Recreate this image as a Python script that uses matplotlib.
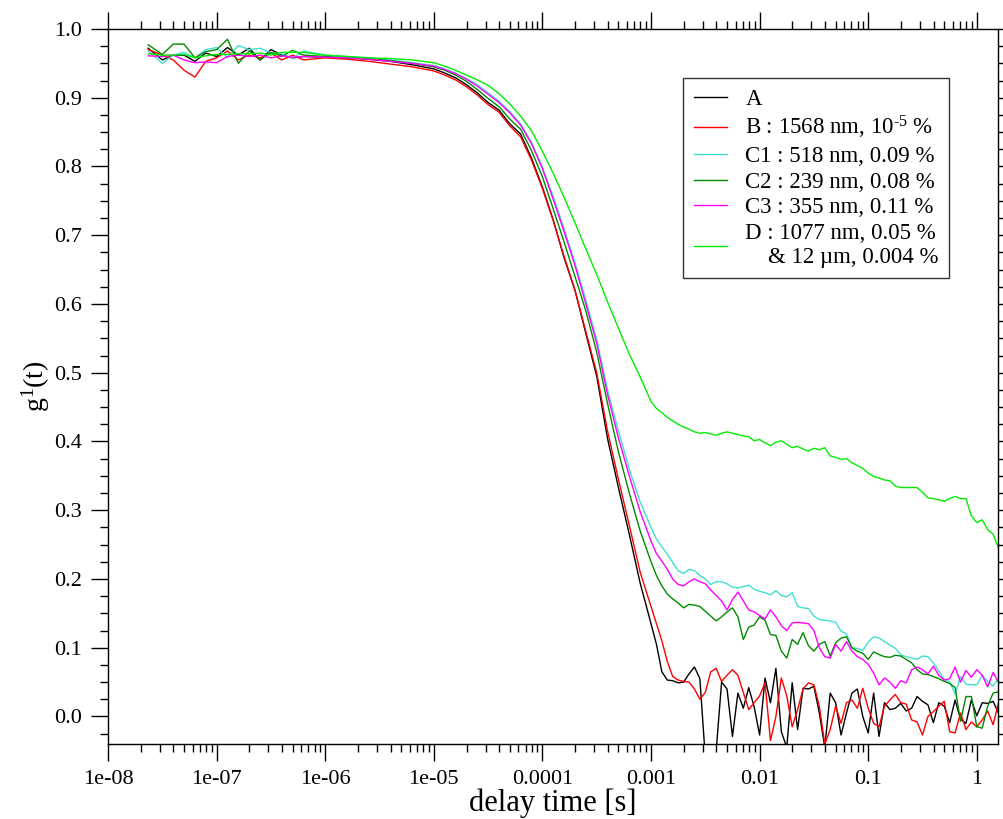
import numpy as np
import matplotlib
matplotlib.use('Agg')
import matplotlib.pyplot as plt
from matplotlib.ticker import FixedLocator, FixedFormatter, MultipleLocator, LogLocator, NullFormatter

plt.rcParams['font.family'] = ['Liberation Serif', 'DejaVu Serif']
plt.rcParams['mathtext.fontset'] = 'custom'
plt.rcParams['mathtext.rm'] = 'Liberation Serif'
plt.rcParams['mathtext.it'] = 'Liberation Serif:italic'

# lag times (log10 of delay time in s)
log_tau = [-7.63, -7.5, -7.4, -7.3, -7.2, -7.1, -7.0, -6.9, -6.8, -6.7, -6.6, -6.5, -6.4, -6.3, -6.2,
           -6.0, -5.8, -5.6, -5.4, -5.2,
           -5.0, -4.9, -4.8, -4.7, -4.6, -4.5, -4.4, -4.3, -4.2, -4.1,
           -4.0, -3.9, -3.8, -3.7, -3.6, -3.5, -3.4, -3.3, -3.2, -3.1,
           -3.0, -2.95, -2.9, -2.85, -2.8, -2.75, -2.7, -2.65, -2.6, -2.55,
           -2.5, -2.45, -2.4, -2.35, -2.3, -2.25, -2.2, -2.15, -2.1, -2.05,
           -2.0, -1.95, -1.9, -1.85, -1.8, -1.75, -1.7, -1.65, -1.6, -1.55,
           -1.5, -1.45, -1.4, -1.35, -1.3, -1.25, -1.2, -1.15, -1.1, -1.05,
           -1.0, -0.95, -0.9, -0.85, -0.8, -0.75, -0.7, -0.65, -0.6, -0.55,
           -0.5, -0.45, -0.4, -0.35, -0.3, -0.25, -0.2, -0.15, -0.1, -0.05,
           0.0, 0.05, 0.1, 0.15, 0.2]

g_A = [0.972, 0.955, 0.962, 0.962, 0.953, 0.965, 0.960, 0.973, 0.962, 0.972, 0.955, 0.970, 0.962, 0.958, 0.960,
       0.959, 0.958, 0.956, 0.953, 0.948,
       0.942, 0.936, 0.929, 0.919, 0.907, 0.893, 0.882, 0.862, 0.847, 0.812,
       0.770, 0.722, 0.667, 0.620, 0.557, 0.495, 0.404, 0.333, 0.265, 0.194,
       0.135, 0.105, 0.065, 0.053, 0.052, 0.049, 0.050, 0.062, 0.072, 0.055,
       -0.060, -0.060, -0.050, 0.050, 0.040, -0.029, 0.034, 0.012, 0.042, 0.014,
       -0.027, 0.056, 0.020, 0.070, -0.022, -0.045, 0.049, -0.019, 0.041, 0.040,
       0.044, 0.005, -0.045, 0.034, 0.020, -0.027, 0.005, 0.034, 0.040, 0.000,
       -0.024, 0.034, -0.029, 0.020, 0.010, 0.012, 0.019, 0.008, 0.012, 0.029,
       0.022, 0.017, -0.009, 0.020, 0.015, -0.009, 0.024, -0.004, -0.010, 0.024,
       0.001, 0.020, 0.019, 0.022, 0.005]

g_B = [0.970, 0.962, 0.955, 0.940, 0.930, 0.953, 0.958, 0.968, 0.955, 0.962, 0.958, 0.965, 0.955, 0.962, 0.955,
       0.958, 0.956, 0.953, 0.949, 0.945,
       0.939, 0.933, 0.926, 0.916, 0.904, 0.890, 0.879, 0.859, 0.843, 0.809,
       0.768, 0.721, 0.669, 0.620, 0.560, 0.500, 0.415, 0.345, 0.278, 0.210,
       0.160, 0.135, 0.110, 0.080, 0.058, 0.053, 0.051, 0.050, 0.040, 0.025,
       0.035, 0.065, 0.070, 0.051, 0.060, 0.068, 0.060, 0.035, 0.010, 0.020,
       0.030, 0.049, -0.035, 0.000, 0.056, 0.030, -0.015, 0.010, 0.040, 0.049,
       0.046, 0.015, -0.040, -0.019, 0.015, -0.010, 0.020, 0.024, 0.012, 0.041,
       0.012, -0.010, -0.015, 0.015, 0.024, 0.032, 0.020, 0.018, -0.005, -0.008,
       -0.027, 0.000, 0.007, 0.015, 0.022, -0.022, -0.024, 0.005, -0.019, -0.008,
       -0.015, -0.005, 0.008, -0.012, 0.020]

g_C1 = [0.968, 0.950, 0.962, 0.966, 0.958, 0.970, 0.973, 0.958, 0.976, 0.970, 0.972, 0.965, 0.964, 0.958, 0.968,
        0.962, 0.960, 0.958, 0.955, 0.951,
        0.947, 0.942, 0.936, 0.928, 0.919, 0.907, 0.895, 0.880, 0.862, 0.835,
        0.799, 0.756, 0.709, 0.660, 0.606, 0.548, 0.475, 0.415, 0.360, 0.312,
        0.275, 0.258, 0.247, 0.236, 0.224, 0.212, 0.208, 0.214, 0.212, 0.205,
        0.200, 0.192, 0.196, 0.196, 0.193, 0.188, 0.187, 0.189, 0.191, 0.185,
        0.182, 0.180, 0.177, 0.183, 0.176, 0.174, 0.180, 0.160, 0.158, 0.157,
        0.146, 0.141, 0.140, 0.139, 0.137, 0.124, 0.120, 0.100, 0.099, 0.096,
        0.108, 0.116, 0.114, 0.109, 0.104, 0.099, 0.090, 0.087, 0.085, 0.083,
        0.088, 0.087, 0.078, 0.066, 0.054, 0.050, 0.033, 0.058, 0.047, 0.046,
        0.046, 0.060, 0.051, 0.044, 0.056]

g_C2 = [0.977, 0.963, 0.978, 0.978, 0.958, 0.967, 0.970, 0.985, 0.950, 0.968, 0.955, 0.966, 0.960, 0.969, 0.962,
        0.960, 0.958, 0.957, 0.954, 0.950,
        0.945, 0.940, 0.933, 0.924, 0.912, 0.899, 0.887, 0.869, 0.854, 0.823,
        0.785, 0.738, 0.690, 0.640, 0.590, 0.530, 0.455, 0.385, 0.325, 0.270,
        0.225, 0.205, 0.190, 0.178, 0.171, 0.165, 0.158, 0.163, 0.162, 0.160,
        0.153, 0.146, 0.139, 0.145, 0.152, 0.158, 0.145, 0.112, 0.130, 0.133,
        0.145, 0.140, 0.119, 0.118, 0.095, 0.085, 0.112, 0.105, 0.122, 0.103,
        0.095, 0.105, 0.109, 0.088, 0.107, 0.114, 0.116, 0.100, 0.095, 0.092,
        0.083, 0.094, 0.090, 0.087, 0.086, 0.089, 0.088, 0.083, 0.078, 0.068,
        0.062, 0.061, 0.058, 0.055, 0.051, 0.048, 0.042, -0.007, 0.029, 0.029,
        -0.015, -0.017, 0.015, 0.034, 0.036]

g_C3 = [0.961, 0.960, 0.962, 0.955, 0.951, 0.952, 0.951, 0.960, 0.962, 0.960, 0.962, 0.958, 0.961, 0.959, 0.960,
        0.959, 0.958, 0.956, 0.953, 0.950,
        0.946, 0.941, 0.935, 0.927, 0.917, 0.905, 0.893, 0.878, 0.860, 0.833,
        0.797, 0.752, 0.705, 0.656, 0.600, 0.543, 0.468, 0.405, 0.350, 0.298,
        0.255, 0.237, 0.226, 0.214, 0.200, 0.192, 0.190, 0.196, 0.200, 0.196,
        0.193, 0.184, 0.176, 0.168, 0.155, 0.170, 0.181, 0.168, 0.155, 0.152,
        0.147, 0.142, 0.155, 0.145, 0.132, 0.125, 0.136, 0.137, 0.136, 0.135,
        0.125, 0.100, 0.087, 0.085, 0.105, 0.095, 0.109, 0.095, 0.087, 0.083,
        0.076, 0.063, 0.046, 0.056, 0.050, 0.041, 0.052, 0.049, 0.068, 0.072,
        0.068, 0.062, 0.073, 0.060, 0.053, 0.055, 0.072, 0.050, 0.067, 0.057,
        0.068, 0.060, 0.043, 0.064, 0.050]

g_D = [0.964, 0.962, 0.962, 0.963, 0.958, 0.961, 0.963, 0.963, 0.964, 0.964, 0.965, 0.962, 0.966, 0.966, 0.966,
       0.962, 0.960, 0.958, 0.957, 0.955,
       0.951, 0.946, 0.940, 0.933, 0.926, 0.918, 0.906, 0.891, 0.873, 0.852,
       0.822, 0.790, 0.755, 0.718, 0.680, 0.643, 0.603, 0.565, 0.527, 0.494,
       0.458, 0.448, 0.442, 0.435, 0.430, 0.425, 0.421, 0.418, 0.414, 0.412,
       0.413, 0.411, 0.409, 0.412, 0.414, 0.412, 0.410, 0.408, 0.407, 0.401,
       0.403, 0.398, 0.394, 0.399, 0.401, 0.396, 0.391, 0.393, 0.389, 0.386,
       0.390, 0.388, 0.391, 0.379, 0.377, 0.374, 0.375, 0.369, 0.365, 0.361,
       0.354, 0.349, 0.347, 0.344, 0.343, 0.335, 0.333, 0.333, 0.333, 0.333,
       0.326, 0.318, 0.317, 0.315, 0.313, 0.317, 0.320, 0.317, 0.317, 0.292,
       0.282, 0.286, 0.272, 0.265, 0.245]

labels = ['A', 'B : 1568 nm, 10$^{\\text{-5}}$ %', 'C1 : 518 nm, 0.09 %', 'C2 : 239 nm, 0.08 %',
          'C3 : 355 nm, 0.11 %', 'D : 1077 nm, 0.05 %\n    & 12 \u00b5m, 0.004 %']
colors = ['black', '#ff0000', '#40e0d0', '#008b00', '#ff00ff', '#00ee00']

xtick_vals = [1e-8, 1e-7, 1e-6, 1e-5, 1e-4, 1e-3, 1e-2, 1e-1, 1]
xtick_labels = ['1e-08', '1e-07', '1e-06', '1e-05', '0.0001', '0.001', '0.01', '0.1', '1']

tau = 10 ** np.array(log_tau)
series = [g_A, g_B, g_C1, g_C2, g_C3, g_D]

fig = plt.figure(figsize=(10.04, 8.19), dpi=100)
ax = fig.add_axes([0.1076, 0.0916, 0.8865, 0.873])

for g, c, lab in zip(series, colors, labels):
    ax.plot(tau, g, color=c, lw=1.0, label=lab)

ax.set_xscale('log')
ax.set_xlim(1e-8, 1.57)
ax.set_ylim(-0.04, 1.0)

ax.xaxis.set_major_locator(FixedLocator(xtick_vals))
ax.xaxis.set_major_formatter(FixedFormatter(xtick_labels))
ax.xaxis.set_minor_locator(LogLocator(base=10, subs=np.arange(2, 10), numticks=20))
ax.xaxis.set_minor_formatter(NullFormatter())
ax.yaxis.set_major_locator(MultipleLocator(0.1))
ax.yaxis.set_minor_locator(MultipleLocator(0.025))
ax.yaxis.set_major_formatter(plt.FuncFormatter(lambda v, p: '%.1f' % v))

ax.tick_params(which='both', direction='out', top=True, right=True, width=1.0, labelsize=16)
ax.tick_params(which='major', length=12, pad=6.5)
ax.tick_params(which='minor', length=6)
for s in ax.spines.values():
    s.set_linewidth(1.0)

ax.set_xlabel('delay time [s]', fontsize=22, labelpad=0)
ax.set_ylabel('g$^{1}$(t)', fontsize=20, labelpad=2)

leg = ax.legend(loc='upper right', bbox_to_anchor=(0.945, 0.931), borderaxespad=0,
                fontsize=16.5, frameon=True, fancybox=False, handlelength=1.45,
                handletextpad=0.8, labelspacing=0.2, borderpad=0.45)
leg.get_frame().set_edgecolor('black')
leg.get_frame().set_linewidth(1.0)

fig.savefig('out.png', dpi=100)
